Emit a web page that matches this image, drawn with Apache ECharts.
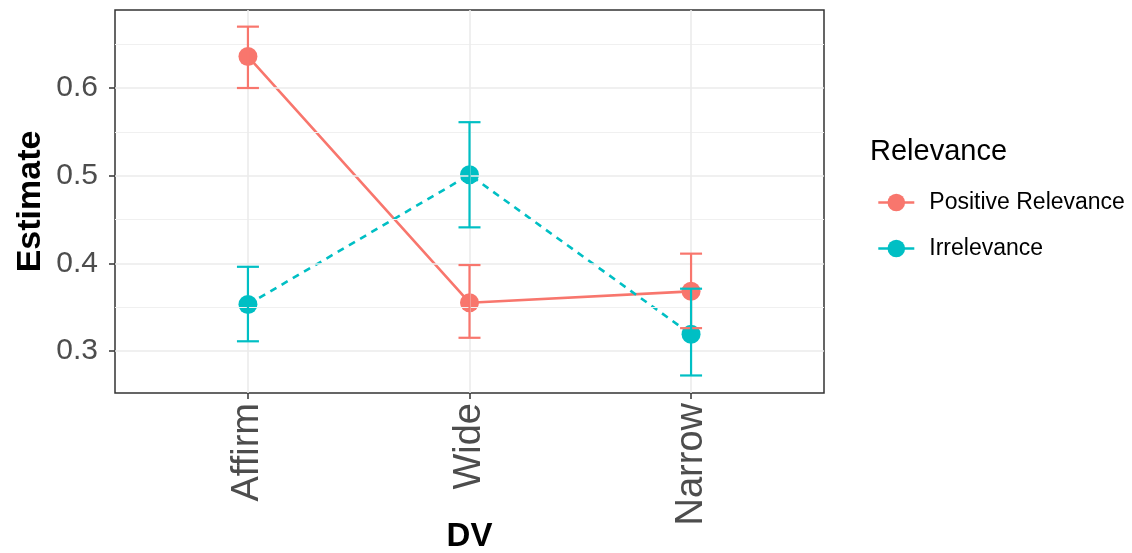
<!DOCTYPE html>
<html>
<head>
<meta charset="utf-8">
<script src="https://cdn.jsdelivr.net/npm/echarts@6/dist/echarts.min.js"></script>
<style>html,body{margin:0;padding:0;background:#fff;}#c{width:1132px;height:553px;}</style>
</head>
<body>
<div id="c"></div>
<script>
const categories = ['Affirm', 'Wide', 'Narrow'];
const seriesNames = ['Positive Relevance', 'Irrelevance'];
const posEstimate = [0.636, 0.355, 0.368];
const posLower = [0.600, 0.315, 0.326];
const posUpper = [0.670, 0.398, 0.411];
const irrEstimate = [0.353, 0.501, 0.319];
const irrLower = [0.311, 0.441, 0.272];
const irrUpper = [0.396, 0.561, 0.371];
const yTicks = [0.3, 0.4, 0.5, 0.6];
const yMinor = [0.35, 0.45, 0.55, 0.65];

const COLORS = ['#F8766D', '#00BFC4'];
const FONT = '"Liberation Sans", Arial, sans-serif';
const xPos = categories.map((c, i) => i + 1);

const errRows = [];
xPos.forEach((x, i) => errRows.push([x, posLower[i], posUpper[i], 0]));
xPos.forEach((x, i) => errRows.push([x, irrLower[i], irrUpper[i], 1]));

function errRender(params, api) {
  const x = api.value(0);
  const color = COLORS[api.value(3)];
  const p1 = api.coord([x, api.value(1)]);
  const p2 = api.coord([x, api.value(2)]);
  const w = 11;
  const st = { stroke: color, lineWidth: 2.2, opacity: 1, fill: null };
  return {
    type: 'group',
    children: [
      { type: 'line', shape: { x1: p1[0], y1: p1[1], x2: p2[0], y2: p2[1] }, style: st },
      { type: 'line', shape: { x1: p1[0] - w, y1: p1[1], x2: p1[0] + w, y2: p1[1] }, style: st },
      { type: 'line', shape: { x1: p2[0] - w, y1: p2[1], x2: p2[0] + w, y2: p2[1] }, style: st }
    ]
  };
}

const gridLines = [];
yTicks.forEach(v => gridLines.push({ yAxis: v, lineStyle: { color: '#EBEBEB', width: 1.6, type: 'solid' } }));
yMinor.forEach(v => gridLines.push({ yAxis: v, lineStyle: { color: '#F0F0F0', width: 1.1, type: 'solid' } }));
xPos.forEach(v => gridLines.push({ xAxis: v, lineStyle: { color: '#EBEBEB', width: 1.6, type: 'solid' } }));

const chart = echarts.init(document.getElementById('c'));
chart.setOption({
  animation: false,
  backgroundColor: '#fff',
  textStyle: { fontFamily: FONT },
  title: {
    text: 'Relevance', left: 865, top: 132,
    textStyle: { fontFamily: FONT, fontSize: 29, fontWeight: 'normal', color: '#000' }
  },
  legend: {
    orient: 'vertical', left: 872, top: 186,
    itemWidth: 36, itemHeight: 22, itemGap: 23,
    data: seriesNames,
    lineStyle: { type: 'solid', width: 2.6 },
    textStyle: { fontFamily: FONT, fontSize: 23, color: '#000', padding: [0, 0, 0, 10] }
  },
  grid: {
    left: 115, top: 10, right: 308, bottom: 160,
    outerBoundsMode: 'none', containLabel: false,
    show: true, borderColor: '#333333', borderWidth: 1.5, backgroundColor: 'transparent'
  },
  xAxis: {
    type: 'value', min: 0.4, max: 3.6,
    name: 'DV', nameLocation: 'middle', nameGap: 127, nameMoveOverlap: false,
    nameTextStyle: { fontFamily: FONT, fontSize: 33, fontWeight: 'bold', color: '#000' },
    axisLine: { show: false },
    splitLine: { show: false },
    axisTick: { show: true, customValues: xPos, length: 6, lineStyle: { color: '#333', width: 1.5 } },
    axisLabel: {
      customValues: xPos, rotate: 90, margin: 10,
      fontFamily: FONT, fontSize: 38, color: '#4D4D4D',
      formatter: v => categories[Math.round(v) - 1] || ''
    }
  },
  yAxis: {
    type: 'value', min: 0.252, max: 0.689,
    name: 'Estimate', nameLocation: 'middle', nameGap: 67, nameRotate: 90, nameMoveOverlap: false,
    nameTextStyle: { fontFamily: FONT, fontSize: 34, fontWeight: 'bold', color: '#000' },
    axisLine: { show: false },
    splitLine: { show: false },
    axisTick: { show: true, customValues: yTicks, length: 6, lineStyle: { color: '#333', width: 1.5 } },
    axisLabel: {
      customValues: yTicks, margin: 17,
      fontFamily: FONT, fontSize: 30, color: '#4D4D4D',
      formatter: v => v.toFixed(1)
    }
  },
  series: [
    {
      name: 'grid', type: 'line', data: [], silent: true, z: 0,
      markLine: { silent: true, symbol: ['none', 'none'], label: { show: false }, data: gridLines, animation: false }
    },
    {
      name: seriesNames[0], type: 'line', z: 2,
      data: xPos.map((x, i) => [x, posEstimate[i]]),
      symbol: 'circle', symbolSize: 19,
      lineStyle: { color: COLORS[0], width: 2.6, type: 'solid' },
      itemStyle: { color: COLORS[0] }
    },
    {
      name: seriesNames[1], type: 'line', z: 3,
      data: xPos.map((x, i) => [x, irrEstimate[i]]),
      symbol: 'circle', symbolSize: 19,
      lineStyle: { color: COLORS[1], width: 2.6, type: [7, 6] },
      itemStyle: { color: COLORS[1] }
    },
    {
      name: 'errorbars', type: 'custom', z: 5, silent: true,
      data: errRows, renderItem: errRender
    }
  ]
});
</script>
</body>
</html>
